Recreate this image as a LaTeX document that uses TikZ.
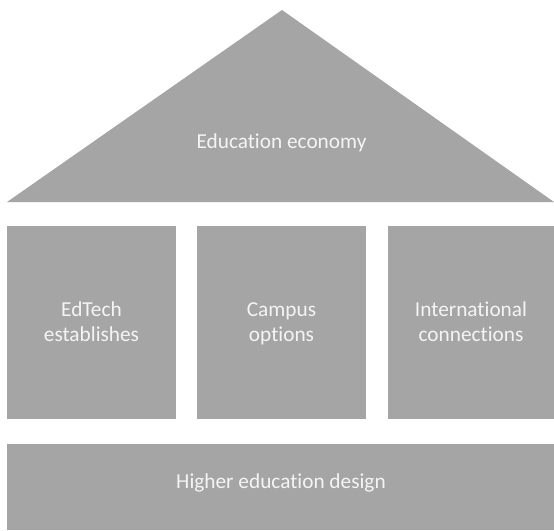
\documentclass[tikz,border=0pt]{standalone}
\usepackage{fontspec}
\setmainfont{Carlito}[RawFeature={-liga;-clig;-calt;-dlig}]
\definecolor{blockgray}{HTML}{A5A5A5}
\definecolor{blocktext}{HTML}{F4F4F4}
\tikzset{
  block/.style={fill=blockgray, draw=none},
  lbl/.style={text=blocktext, font=\fontsize{21.3}{24.5}\selectfont, align=center, inner sep=0pt},
}
\begin{document}
\begin{tikzpicture}[x=1pt,y=-1pt]
\useasboundingbox (0,0) rectangle (554,530);
% roof
\path[block] (7,202) -- (282,10) -- (554,202) -- cycle;
\node[lbl] (roof) at (281.5,144) {\strut Education economy};
% pillars
\path[block] (7,226) rectangle (176,419);
\path[block] (197,226) rectangle (366,419);
\path[block] (388,226) rectangle (554,419);
\node[lbl] (p1) at (91.5,324.3) {\strut EdTech\\\strut establishes};
\node[lbl] (p2) at (281.5,324.3) {\strut Campus\\\strut options};
\node[lbl] (p3) at (471,324.3) {\strut International\\\strut connections};
% base
\path[block] (7,444) rectangle (554,530);
\node[lbl] (base) at (281,484) {\strut Higher education design};
\end{tikzpicture}
\end{document}
